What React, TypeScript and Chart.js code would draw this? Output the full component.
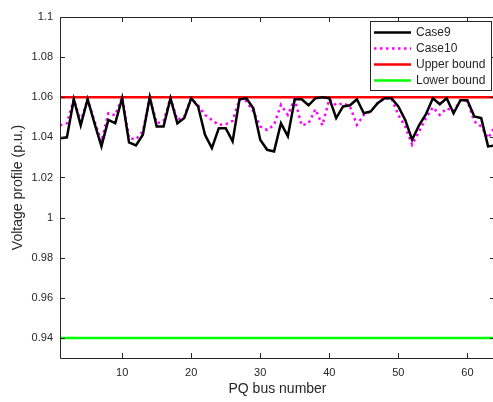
import React, { useEffect, useRef } from "react";
import { Chart, registerables } from "chart.js";

Chart.register(...registerables);

const busNumbers = [
  1, 2, 3, 4, 5, 6, 7, 8, 9, 10, 11, 12, 13, 14, 15, 16, 17, 18, 19, 20, 21, 22, 23, 24, 25, 26, 27, 28, 29, 30, 31, 32,
  33, 34, 35, 36, 37, 38, 39, 40, 41, 42, 43, 44, 45, 46, 47, 48, 49, 50, 51, 52, 53, 54, 55, 56, 57, 58, 59, 60, 61, 62,
  63, 64,
];

const case9 = [
  1.0396, 1.04, 1.059, 1.046, 1.059, 1.047, 1.0355, 1.0487, 1.047, 1.0595, 1.0375, 1.036, 1.0413, 1.06, 1.0454, 1.0454,
  1.0595, 1.047, 1.0496, 1.0595, 1.0554, 1.0413, 1.0346, 1.0446, 1.0446, 1.038, 1.059, 1.0595, 1.0545, 1.0388, 1.0338,
  1.033, 1.047, 1.0405, 1.059, 1.059, 1.056, 1.0595, 1.06, 1.0595, 1.0496, 1.0554, 1.056, 1.059, 1.052, 1.0529, 1.057,
  1.0595, 1.0595, 1.0554, 1.0487, 1.0388, 1.046, 1.0515, 1.0595, 1.0565, 1.0595, 1.052, 1.0585, 1.0585, 1.0504, 1.0496,
  1.0355, 1.036,
];

const case10 = [
  1.046, 1.047, 1.059, 1.048, 1.059, 1.048, 1.038, 1.052, 1.051, 1.06, 1.0396, 1.039, 1.043, 1.06, 1.047, 1.048, 1.0595,
  1.0487, 1.0504, 1.0595, 1.056, 1.0512, 1.0487, 1.0462, 1.0465, 1.0482, 1.059, 1.058, 1.0529, 1.0454, 1.0437, 1.0462,
  1.0562, 1.0512, 1.059, 1.046, 1.047, 1.054, 1.046, 1.059, 1.056, 1.057, 1.0554, 1.0462, 1.0512, 1.0529, 1.057, 1.0595,
  1.0595, 1.0512, 1.0454, 1.0363, 1.0429, 1.0496, 1.055, 1.0512, 1.0545, 1.053, 1.0585, 1.058, 1.048, 1.0454, 1.0396,
  1.0454,
];

const upperBound = 1.06;
const lowerBound = 0.94;

const xTicks = [10, 20, 30, 40, 50, 60];
const yTicks = [0.94, 0.96, 0.98, 1.0, 1.02, 1.04, 1.06, 1.08, 1.1];

const seriesNames = ["Case9", "Case10", "Upper bound", "Lower bound"];

const TEXT = "#262626";
const FONT = "'Liberation Sans', Arial, Helvetica, sans-serif";

const framePlugin = {
  id: "matlabFrame",
  afterDatasetsDraw(chart: any) {
    const { ctx, chartArea, scales } = chart;
    const { left, right, top, bottom } = chartArea;
    const tl = 5;
    ctx.save();
    ctx.strokeStyle = TEXT;
    ctx.lineWidth = 1;
    ctx.beginPath();
    ctx.rect(Math.round(left) + 0.5, Math.round(top) + 0.5, Math.round(right - left), Math.round(bottom - top));
    ctx.stroke();
    ctx.beginPath();
    for (const v of xTicks) {
      const px = Math.round(scales.x.getPixelForValue(v)) + 0.5;
      ctx.moveTo(px, bottom);
      ctx.lineTo(px, bottom - tl);
      ctx.moveTo(px, top);
      ctx.lineTo(px, top + tl);
    }
    for (const v of yTicks) {
      const py = Math.round(scales.y.getPixelForValue(v)) + 0.5;
      ctx.moveTo(left, py);
      ctx.lineTo(left + tl, py);
      ctx.moveTo(right, py);
      ctx.lineTo(right - tl, py);
    }
    ctx.stroke();
    ctx.restore();
  },
  afterDraw(chart: any) {
    const { ctx } = chart;
    const bx = 370.5;
    const by = 21.5;
    const bw = 121;
    const bh = 69;
    ctx.save();
    ctx.fillStyle = "#ffffff";
    ctx.fillRect(bx, by, bw, bh);
    ctx.strokeStyle = TEXT;
    ctx.lineWidth = 1;
    ctx.strokeRect(bx, by, bw, bh);
    ctx.font = `12px ${FONT}`;
    ctx.textBaseline = "middle";
    ctx.textAlign = "left";
    chart.data.datasets.forEach((ds: any, i: number) => {
      const yy = 32.5 + i * 16;
      ctx.save();
      ctx.strokeStyle = ds.borderColor;
      ctx.lineWidth = ds.borderWidth;
      ctx.setLineDash(ds.borderDash || []);
      ctx.beginPath();
      ctx.moveTo(374, yy);
      ctx.lineTo(411, yy);
      ctx.stroke();
      ctx.restore();
      ctx.fillStyle = TEXT;
      ctx.fillText(ds.label, 416, yy + 0.5);
    });
    ctx.restore();
  },
};

export default function App() {
  const canvasRef = useRef<HTMLCanvasElement | null>(null);

  useEffect(() => {
    const canvas = canvasRef.current;
    if (!canvas) return;
    const xMin = busNumbers[0];
    const xMax = busNumbers[busNumbers.length - 1];
    const chart = new Chart(canvas, {
      type: "line",
      data: {
        datasets: [
          {
            label: seriesNames[0],
            data: busNumbers.map((b, i) => ({ x: b, y: case9[i] })),
            borderColor: "#000000",
            borderWidth: 2.5,
            pointRadius: 0,
            tension: 0,
          },
          {
            label: seriesNames[1],
            data: busNumbers.map((b, i) => ({ x: b, y: case10[i] })),
            borderColor: "#ff00ff",
            borderWidth: 2.5,
            borderDash: [2.5, 3.5],
            borderCapStyle: "butt",
            pointRadius: 0,
            tension: 0,
          },
          {
            label: seriesNames[2],
            data: [
              { x: xMin, y: upperBound },
              { x: xMax, y: upperBound },
            ],
            borderColor: "#ff0000",
            borderWidth: 2.5,
            pointRadius: 0,
          },
          {
            label: seriesNames[3],
            data: [
              { x: xMin, y: lowerBound },
              { x: xMax, y: lowerBound },
            ],
            borderColor: "#00ff00",
            borderWidth: 2.5,
            pointRadius: 0,
          },
        ],
      },
      options: {
        responsive: false,
        animation: false,
        layout: { padding: { left: 0, right: 2, top: 17, bottom: 0 } },
        plugins: {
          legend: { display: false },
          tooltip: { enabled: false },
        },
        scales: {
          x: {
            type: "linear",
            min: xMin,
            max: xMax,
            grid: { display: false, drawTicks: false },
            border: { display: false },
            afterBuildTicks: (s: any) => {
              s.ticks = xTicks.map((v) => ({ value: v }));
            },
            afterFit: (s: any) => {
              s.height = 44;
            },
            ticks: {
              color: TEXT,
              font: { family: FONT, size: 11 },
              padding: 8,
              maxRotation: 0,
              autoSkip: false,
              callback: (v: any) => String(v),
            },
            title: {
              display: true,
              text: "PQ bus number",
              color: TEXT,
              font: { family: FONT, size: 14 },
              padding: { top: 0, bottom: 4 },
            },
          },
          y: {
            type: "linear",
            min: 0.93,
            max: 1.1,
            grid: { display: false, drawTicks: false },
            border: { display: false },
            afterBuildTicks: (s: any) => {
              s.ticks = yTicks.map((v) => ({ value: v }));
            },
            afterFit: (s: any) => {
              s.width = 60;
            },
            ticks: {
              color: TEXT,
              font: { family: FONT, size: 11 },
              padding: 7,
              autoSkip: false,
              callback: (v: any) => String(Number(Number(v).toFixed(2))),
            },
            title: {
              display: true,
              text: "Voltage profile (p.u.)",
              color: TEXT,
              font: { family: FONT, size: 14 },
              padding: { top: 10, bottom: 0 },
            },
          },
        },
      },
      plugins: [framePlugin],
    });
    return () => chart.destroy();
  }, []);

  return (
    <div style={{ position: "fixed", left: 0, top: 0, width: 497, height: 402, background: "#ffffff" }}>
      <canvas ref={canvasRef} width={497} height={402} style={{ display: "block" }} />
    </div>
  );
}
